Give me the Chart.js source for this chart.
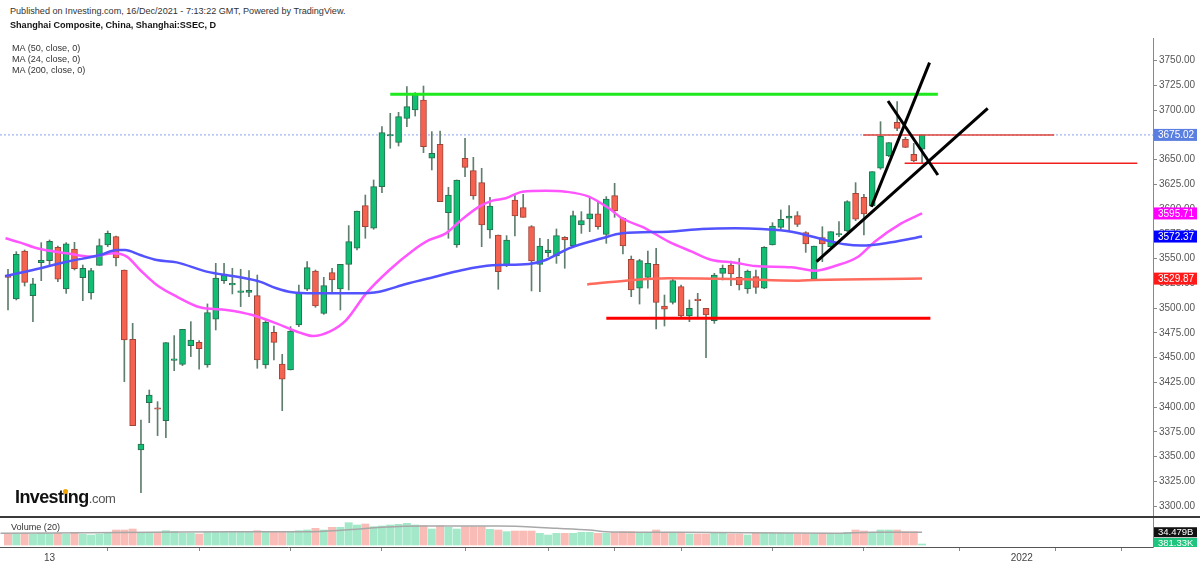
<!DOCTYPE html>
<html>
<head>
<meta charset="utf-8">
<script src="https://cdn.jsdelivr.net/npm/chart.js@4.4.0/dist/chart.umd.min.js"></script>
<style>
  html, body { margin: 0; padding: 0; background: #fff; }
  body { width: 1200px; height: 566px; position: relative; overflow: hidden; font-family: "Liberation Sans", Arial, sans-serif; }
  .txt { position: absolute; color: #333; font-size: 9.1px; line-height: 11px; white-space: nowrap; z-index: 5; }
  #price-chart { position: absolute; left: 0; top: 38px; }
  #volume-chart { position: absolute; left: 0; top: 518px; }
  #separator { position: absolute; left: 0; top: 516px; width: 1200px; height: 2px; background: #3a3a3a; z-index: 4; }
  #logo { position: absolute; left: 15px; top: 487px; z-index: 5; white-space: nowrap; }
  #logo .main { font: bold 18px "Liberation Sans", Arial, sans-serif; letter-spacing: -0.6px; color: #111; }
  #logo .dot { position: relative; }
  #logo .dot::after { content: ''; position: absolute; left: 50%; top: 2px; width: 5px; height: 5px; margin-left: -3px; background: #f6a400; border-radius: 50%; }
  #logo .dom { font-size: 13px; color: #555; letter-spacing: -0.3px; }
</style>
</head>
<body>
<div class="txt" style="left:10px; top:6px;">Published on Investing.com, 16/Dec/2021 - 7:13:22 GMT, Powered by TradingView.</div>
<div class="txt" style="left:10px; top:20px; font-weight:bold; color:#111;">Shanghai Composite, China, Shanghai:SSEC, D</div>
<div class="txt" style="left:12px; top:43px;">MA (50, close, 0)</div>
<div class="txt" style="left:12px; top:54px;">MA (24, close, 0)</div>
<div class="txt" style="left:12px; top:65px;">MA (200, close, 0)</div>
<div id="logo"><span class="main">Invest<span class="dot">i</span>ng</span><span class="dom">.com</span></div>
<div class="txt" style="left:11px; top:522px;">Volume (20)</div>
<div id="separator"></div>
<canvas id="price-chart" width="1200" height="479"></canvas>
<canvas id="volume-chart" width="1200" height="48"></canvas>
<script>
// daily candles
const candleOpen = [
  3533.5, 3509.3, 3557.8, 3512.7, 3546.0, 3548.0, 3561.5, 3519.4, 3559.8, 3530.8,
  3515.4, 3543.3, 3563.8, 3572.3, 3538.6, 3468.6, 3356.8, 3404.6, 3398.9, 3386.4,
  3447.3, 3443.3, 3462.2, 3465.5, 3442.6, 3488.8, 3527.8, 3523.4, 3516.0, 3516.0,
  3512.7, 3442.6, 3475.6, 3443.6, 3437.6, 3483.0, 3519.1, 3537.6, 3494.8, 3535.9,
  3519.4, 3544.3, 3560.5, 3603.6, 3580.7, 3622.8, 3673.9, 3667.5, 3691.8, 3700.2,
  3710.3, 3651.4, 3665.5, 3596.5, 3563.8, 3651.4, 3638.9, 3626.8, 3579.0, 3573.9,
  3543.0, 3609.3, 3601.5, 3582.4, 3544.3, 3556.1, 3552.7, 3571.6, 3563.2, 3584.0,
  3590.1, 3595.2, 3574.6, 3613.7, 3590.8, 3549.4, 3520.1, 3531.2, 3544.3, 3502.2,
  3505.9, 3521.8, 3492.1, 3508.3, 3499.9, 3487.4, 3535.2, 3543.6, 3531.2, 3519.4,
  3531.9, 3520.1, 3563.8, 3581.7, 3590.8, 3593.5, 3576.3, 3529.2, 3571.2, 3562.1,
  3573.9, 3578.0, 3616.0, 3612.0, 3603.2, 3641.3, 3653.7, 3687.7, 3670.6, 3655.4,
  3660.5
];
const candleHigh = [
  3539.3, 3557.1, 3558.8, 3530.2, 3566.2, 3568.9, 3562.8, 3566.2, 3566.5, 3543.6,
  3540.3, 3569.9, 3578.0, 3572.9, 3538.6, 3484.7, 3387.1, 3417.4, 3405.6, 3465.2,
  3472.3, 3478.7, 3486.4, 3467.2, 3504.3, 3545.3, 3545.3, 3540.3, 3539.3, 3537.9,
  3533.5, 3487.4, 3482.0, 3453.4, 3481.4, 3523.4, 3547.0, 3538.6, 3531.2, 3540.3,
  3544.3, 3583.4, 3598.2, 3614.3, 3629.5, 3683.4, 3696.8, 3697.8, 3723.8, 3717.7,
  3724.4, 3678.3, 3679.0, 3622.1, 3629.5, 3671.6, 3652.4, 3641.3, 3612.0, 3573.9,
  3573.3, 3614.3, 3615.0, 3583.4, 3570.6, 3569.6, 3580.0, 3572.3, 3598.2, 3597.5,
  3612.0, 3607.6, 3612.7, 3626.1, 3591.4, 3552.7, 3549.4, 3557.8, 3560.5, 3513.3,
  3529.5, 3523.4, 3508.3, 3515.0, 3499.9, 3535.2, 3543.6, 3547.7, 3550.4, 3538.6,
  3538.6, 3562.2, 3586.4, 3599.2, 3603.6, 3597.5, 3577.3, 3562.8, 3582.3, 3577.3,
  3587.4, 3608.6, 3626.8, 3615.0, 3637.9, 3688.4, 3667.2, 3708.6, 3672.6, 3666.5,
  3675.02
];
const candleLow = [
  3498.2, 3508.3, 3522.4, 3486.4, 3527.8, 3543.6, 3526.8, 3515.0, 3538.6, 3507.6,
  3509.0, 3543.3, 3562.2, 3542.6, 3425.8, 3381.4, 3313.7, 3384.4, 3371.3, 3369.2,
  3436.9, 3442.0, 3451.1, 3438.3, 3440.3, 3478.0, 3525.1, 3514.4, 3501.6, 3511.7,
  3439.3, 3439.3, 3447.7, 3396.5, 3437.6, 3481.3, 3517.7, 3500.9, 3493.8, 3515.0,
  3498.2, 3518.4, 3558.8, 3570.6, 3579.7, 3616.7, 3661.5, 3663.8, 3683.4, 3694.1,
  3657.1, 3639.6, 3607.6, 3570.6, 3561.5, 3632.9, 3610.0, 3562.1, 3570.6, 3519.1,
  3541.9, 3572.9, 3591.8, 3517.4, 3516.7, 3552.0, 3545.3, 3540.3, 3562.1, 3575.6,
  3577.3, 3579.7, 3565.5, 3591.8, 3554.7, 3511.6, 3504.2, 3520.1, 3479.0, 3482.0,
  3504.2, 3491.4, 3486.4, 3490.4, 3450.0, 3484.7, 3528.5, 3522.8, 3518.4, 3515.0,
  3515.0, 3519.7, 3563.8, 3580.0, 3577.3, 3582.4, 3556.4, 3527.8, 3547.0, 3561.5,
  3572.2, 3577.3, 3588.4, 3573.9, 3602.6, 3640.3, 3653.1, 3679.3, 3662.1, 3648.0,
  3647.0
];
const candleClose = [
  3531.2, 3554.4, 3526.1, 3524.5, 3548.4, 3567.5, 3529.2, 3564.9, 3539.9, 3540.3,
  3537.9, 3563.2, 3575.6, 3550.7, 3467.9, 3381.4, 3362.8, 3412.3, 3397.9, 3465.2,
  3448.4, 3478.7, 3467.9, 3459.1, 3495.5, 3530.5, 3533.2, 3525.1, 3517.4, 3518.1,
  3447.7, 3485.7, 3465.5, 3428.2, 3477.0, 3515.7, 3540.9, 3502.2, 3522.8, 3528.5,
  3544.3, 3567.2, 3598.2, 3582.4, 3622.8, 3677.3, 3674.9, 3693.5, 3703.6, 3716.0,
  3663.2, 3656.4, 3607.6, 3614.3, 3629.5, 3642.3, 3613.3, 3584.0, 3603.2, 3536.9,
  3568.9, 3593.1, 3591.8, 3547.7, 3562.8, 3558.8, 3573.3, 3568.9, 3593.5, 3588.4,
  3595.2, 3582.4, 3610.3, 3598.2, 3562.8, 3518.4, 3548.0, 3545.3, 3505.9, 3498.9,
  3527.8, 3492.1, 3499.9, 3507.6, 3493.1, 3533.5, 3540.3, 3534.5, 3523.4, 3537.6,
  3521.1, 3561.5, 3583.0, 3589.8, 3593.1, 3584.7, 3564.8, 3562.8, 3564.8, 3577.3,
  3574.9, 3607.6, 3589.8, 3595.1, 3637.9, 3673.9, 3667.2, 3681.7, 3662.5, 3648.7,
  3675.02
];
// volume in billions
const volumes = [
  28.8, 28.8, 31.5, 28.8, 31.5, 31.5, 31.5, 28.8, 34.2, 28.8,
  27.0, 29.7, 33.3, 40.5, 40.5, 43.2, 34.2, 31.5, 34.2, 38.7,
  36.0, 31.5, 31.5, 29.7, 34.2, 34.2, 34.2, 34.2, 34.2, 34.2,
  38.7, 36.0, 36.0, 36.0, 36.0, 38.7, 40.5, 45.0, 40.5, 47.7,
  47.7, 60.3, 54.0, 56.7, 49.5, 51.3, 54.0, 55.8, 58.5, 54.0,
  52.2, 43.2, 51.3, 47.7, 43.2, 49.5, 49.5, 49.5, 42.3, 40.5,
  36.0, 37.8, 37.8, 37.8, 31.5, 27.0, 31.5, 31.5, 31.5, 34.2,
  34.2, 31.5, 31.5, 34.2, 36.0, 36.0, 34.2, 34.2, 40.5, 31.5,
  31.5, 34.2, 29.7, 29.7, 29.7, 31.5, 31.5, 29.7, 29.7, 27.0,
  31.5, 31.5, 31.5, 31.5, 31.5, 29.7, 29.7, 29.7, 31.5, 29.7,
  31.5, 34.2, 40.5, 37.8, 34.2, 40.5, 40.5, 40.5, 36.0, 36.0,
  0.00038
];

// moving averages (bar index, value)
const ma50X = [-0.3, 3.0, 7.1, 11.1, 13.1, 14.1, 15.9, 17.9, 20.3, 23.9, 27.9, 30.3, 32.3, 34.2, 36.7, 41.9, 44.7, 47.9,
  50.7, 54.7, 58.3, 62.7, 64.7, 67.5, 71.5, 73.9, 79.5, 83.5, 87.5, 90.7, 94.3, 98.3, 100.7, 102.7, 106.3, 110];
const ma50Y = [3532.5, 3538.6, 3547, 3553.7, 3558.8, 3558.8, 3553.7, 3548.7, 3546.3, 3536.9, 3531.2, 3526.8, 3520.1, 3516, 3515, 3515, 3516.7, 3524.4,
  3530.2, 3538.6, 3543.3, 3544.6, 3548.7, 3560.5, 3570.6, 3575.6, 3577.3, 3580, 3580.7, 3580, 3577.3, 3568.9, 3564.5, 3563.2, 3566.5, 3572.37];
const ma24X = [-0.3, 1.5, 3.5, 7.1, 9.9, 12.6, 14.3, 15.9, 17.9, 20.3, 23.1, 26.3, 29.4, 32.3, 35.1, 36.7, 38.7, 40.7, 43.1, 45.9,
  48.7, 50.7, 52.7, 54.3, 56.7, 58.3, 59.9, 61.9, 64.7, 67.1, 69.9, 72.3, 73.9, 76.7, 79.5, 82.3, 84.7, 87.5, 89.9, 94.3,
  96.3, 97.1, 99.5, 102.3, 104.3, 107.5, 110];
const ma24Y = [3570.6, 3566.2, 3560.5, 3555.4, 3552.1, 3555.4, 3552.1, 3538.6, 3523.4, 3511.7, 3500.9, 3498.2, 3493.1, 3484.7, 3475.3, 3471.9, 3476.3, 3488, 3515, 3538.6,
  3558.1, 3568.9, 3575.6, 3587.4, 3602.6, 3608.6, 3611, 3617.7, 3618.7, 3617.7, 3612.7, 3600.9, 3590.8, 3580.7, 3567.2, 3557.1, 3548.7, 3546, 3542.6, 3541.3,
  3538.6, 3537.9, 3542.6, 3552, 3567.2, 3585.7, 3595.71];
const ma200X = [69.7, 74.3, 79.5, 87.4, 95.1, 97.1, 110];
const ma200Y = [3524, 3527.8, 3530.2, 3529.5, 3527.8, 3528.5, 3529.87];
const volMaX = [-0.9, 17.5, 26.7, 36, 40.5, 45, 49.8, 59, 66, 70, 72, 81, 99.5, 104, 110];
const volMaY = [31.5, 34.2, 36, 36, 40.5, 47.7, 51.3, 51.3, 45, 40.5, 36, 34.2, 31.5, 34.2, 34.479];

// drawings: [bar index, price] end points
const greenLevel = [[46.0, 3716], [111.9, 3716]];
const upperRedLevel = [[102.9, 3675], [125.9, 3675]];
const lowerRedLevel = [[107.9, 3646.5], [135.9, 3646.5]];
const floorLevel = [[72.0, 3489.8], [111.0, 3489.8]];
const trendSteep = [[103.9, 3602.5], [110.9, 3748]];
const trendShallow = [[97.3, 3547], [117.9, 3701.9]];
const trendDown = [[105.9, 3709.3], [111.9, 3634.5]];
const lastPrice = 3675.02;

// axes
const xMin = -0.963;
const xMax = 137.79;
const yTickValues = [3300, 3325, 3350, 3375, 3400, 3425, 3450, 3475, 3500, 3525, 3550, 3575, 3600,
  3625, 3650, 3675, 3700, 3725, 3750];
const xTickValues = [5, 19, 27, 41, 49, 61, 69, 77, 85, 99, 107, 122, 130];
const xTickLabels = ['13', '', '', '', '', '', '', '', '', '', '', '2022', ''];
const priceBadges = [
  { value: 3675.02, text: '3675.02', bg: '#5b7fe0' },
  { value: 3595.71, text: '3595.71', bg: '#ff00ff' },
  { value: 3572.37, text: '3572.37', bg: '#0000ff' },
  { value: 3529.87, text: '3529.87', bg: '#ff1a1a' }
];
const volumeBadges = [
  { value: 34.479, text: '34.479B', bg: '#111111' },
  { value: 0.00038, text: '381.33K', bg: '#1fc47d' }
];

Chart.defaults.font.family = '"Liberation Sans", Arial, sans-serif';

const isUp = candleClose.map((c, i) => c >= candleOpen[i]);

// coloured value boxes on the right-hand axis
const badgePlugin = {
    id: 'badges',
    afterDraw(chart, args, opts) {
        const { ctx, chartArea } = chart;
        const yScale = chart.scales.y;
        const h = opts.height;
        ctx.save();
        ctx.beginPath();
        ctx.rect(0, 0, chart.width, chartArea.bottom);
        ctx.clip();
        ctx.font = opts.font;
        ctx.textBaseline = 'middle';
        opts.items.forEach(b => {
            // keep the box inside the pane, like TradingView does
            const y = Math.min(yScale.getPixelForValue(b.value), chartArea.bottom - h / 2 + 1);
            ctx.fillStyle = b.bg;
            ctx.fillRect(chartArea.right + 1, y - h / 2, 43, h);
            ctx.fillStyle = '#fff';
            ctx.fillText(b.text, chartArea.right + 5, y + 0.5);
        });
        ctx.restore();
    }
};

function segment(points, color, width) {
    return {
        type: 'line',
        data: points.map(p => ({ x: p[0], y: p[1] })),
        borderColor: color,
        borderWidth: width,
        pointRadius: 0,
        order: 0
    };
}

function maLine(xs, ys, color) {
    return {
        type: 'line',
        data: xs.map((x, k) => ({ x: x, y: ys[k] })),
        borderColor: color,
        borderWidth: 2.5,
        pointRadius: 0,
        cubicInterpolationMode: 'monotone',
        order: 1
    };
}

const priceChart = new Chart(document.getElementById('price-chart'), {
    type: 'bar',
    data: {
        datasets: [
            segment(trendSteep, '#000', 3),
            segment(trendShallow, '#000', 3),
            segment(trendDown, '#000', 3),
            segment(greenLevel, '#1ee81e', 3),
            segment(floorLevel, '#ff0000', 3),
            segment(upperRedLevel, '#e0443c', 1.5),
            segment(lowerRedLevel, '#f02020', 1.5),
            maLine(ma50X, ma50Y, '#5252ff'),
            maLine(ma24X, ma24Y, '#ff55ff'),
            maLine(ma200X, ma200Y, '#ff6a5c'),
            {
                label: 'bodies',
                data: candleOpen.map((o, i) => ({ x: i, y: [o, candleClose[i]] })),
                backgroundColor: isUp.map(u => u ? '#12bd74' : '#f5624f'),
                borderColor: isUp.map(u => u ? '#2a6e50' : '#9e4438'),
                borderWidth: 1,
                borderSkipped: false,
                barThickness: 6,
                minBarLength: 1.5,
                grouped: false,
                order: 2
            },
            {
                label: 'wicks',
                data: candleLow.map((l, i) => ({ x: i, y: [l, candleHigh[i]] })),
                backgroundColor: '#5f7e6d',
                barThickness: 1,
                grouped: false,
                order: 3
            },
            {
                type: 'line',
                data: [{ x: xMin, y: lastPrice }, { x: xMax, y: lastPrice }],
                borderColor: '#89a3ee',
                borderWidth: 1,
                borderDash: [2, 2],
                pointRadius: 0,
                order: 4
            }
        ]
    },
    options: {
        responsive: false,
        animation: false,
        layout: { padding: 0 },
        plugins: {
            legend: { display: false },
            tooltip: { enabled: false },
            badges: { items: priceBadges, height: 12, font: '10px "Liberation Sans", Arial, sans-serif' }
        },
        scales: {
            x: {
                type: 'linear',
                display: false,
                min: xMin,
                max: xMax,
                offset: false
            },
            y: {
                position: 'right',
                min: 3289.1,
                max: 3772.9,
                afterBuildTicks: s => { s.ticks = yTickValues.map(v => ({ value: v })); },
                afterFit: s => { s.width = 47; s.paddingTop = 0; s.paddingBottom = 0; },
                ticks: {
                    color: '#555',
                    font: { size: 10 },
                    padding: 2,
                    callback: v => v.toFixed(2)
                },
                grid: { drawOnChartArea: false, drawTicks: true, tickLength: 4, color: '#888' },
                border: { color: '#888' }
            }
        }
    },
    plugins: [badgePlugin]
});

const volumeChart = new Chart(document.getElementById('volume-chart'), {
    type: 'bar',
    data: {
        datasets: [
            {
                type: 'line',
                data: volMaX.map((x, k) => ({ x: x, y: volMaY[k] })),
                borderColor: '#a8a8a8',
                borderWidth: 1.5,
                pointRadius: 0,
                cubicInterpolationMode: 'monotone',
                order: 0
            },
            {
                data: volumes.map((v, i) => ({ x: i, y: v })),
                backgroundColor: isUp.map(u => u ? '#a2e8c9' : '#f9bcb6'),
                barThickness: 7.3,
                minBarLength: 1,
                grouped: false,
                order: 1
            }
        ]
    },
    options: {
        responsive: false,
        animation: false,
        layout: { padding: 0 },
        plugins: {
            legend: { display: false },
            tooltip: { enabled: false },
            badges: { items: volumeBadges, height: 10, font: '9.5px "Liberation Sans", Arial, sans-serif' }
        },
        scales: {
            x: {
                type: 'linear',
                min: xMin,
                max: xMax,
                offset: false,
                afterBuildTicks: s => { s.ticks = xTickValues.map(v => ({ value: v })); },
                afterFit: s => { s.height = 19; s.paddingLeft = 0; s.paddingRight = 0; },
                ticks: {
                    autoSkip: false,
                    maxRotation: 0,
                    padding: 1,
                    color: '#444',
                    font: { size: 10 },
                    callback: v => xTickLabels[xTickValues.indexOf(v)]
                },
                grid: {
                    drawOnChartArea: false,
                    tickLength: 4,
                    color: '#888',
                    tickColor: ctx => (ctx.tick && ctx.tick.value === 5) ? 'rgba(0,0,0,0)' : '#888'
                },
                border: { color: '#555' }
            },
            y: {
                position: 'right',
                min: -5.4,
                max: 72.9,
                afterFit: s => { s.width = 47; s.paddingTop = 0; s.paddingBottom = 0; },
                ticks: { display: false },
                grid: { display: false },
                border: { display: true, color: '#888' }
            }
        }
    },
    plugins: [badgePlugin]
});
</script>
</body>
</html>
